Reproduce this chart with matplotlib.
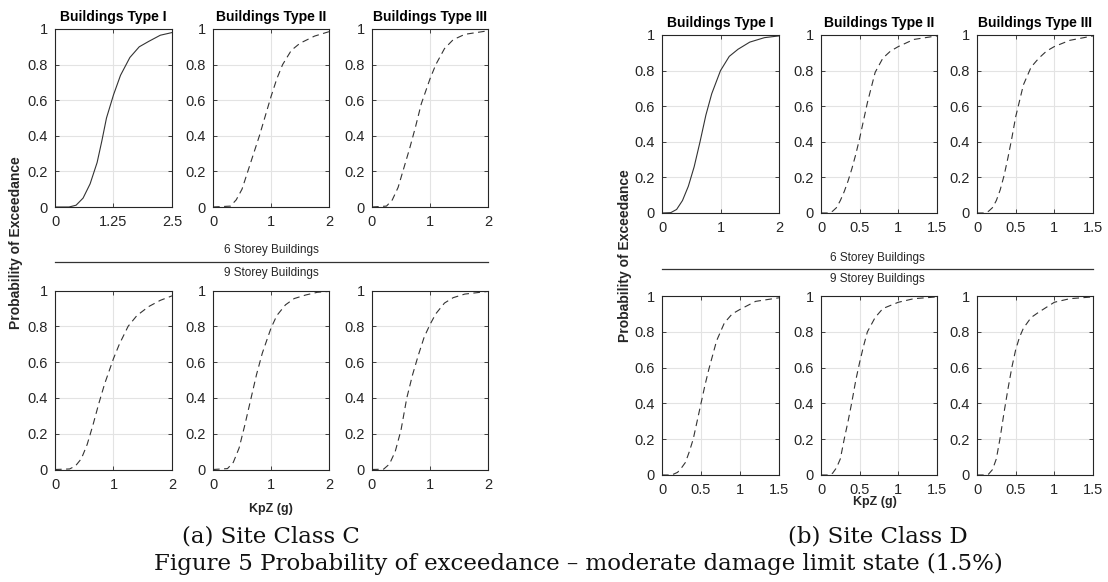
import matplotlib
matplotlib.use('Agg')
from matplotlib import pyplot as plt

plt.rcParams['font.family'] = ['Liberation Sans', 'DejaVu Sans']

W, H = 1108, 582

# ---- data ----
# Site Class C, 6 storey
c6_t1_x = [0, 0.3, 0.45, 0.6, 0.75, 0.9, 1.0, 1.1, 1.25, 1.4, 1.6, 1.8, 2.0, 2.25, 2.5]
c6_t1_y = [0, 0.0, 0.01, 0.05, 0.13, 0.25, 0.37, 0.5, 0.63, 0.74, 0.84, 0.9, 0.93, 0.965, 0.98]
c6_t2_x = [0, 0.3, 0.4, 0.5, 0.6, 0.7, 0.8, 0.9, 1.0, 1.1, 1.2, 1.35, 1.5, 1.75, 2.0]
c6_t2_y = [0, 0.005, 0.04, 0.1, 0.2, 0.3, 0.4, 0.51, 0.62, 0.72, 0.8, 0.88, 0.92, 0.96, 0.985]
c6_t3_x = [0, 0.25, 0.35, 0.45, 0.55, 0.65, 0.75, 0.85, 1.0, 1.1, 1.25, 1.4, 1.6, 2.0]
c6_t3_y = [0, 0.005, 0.04, 0.11, 0.22, 0.33, 0.45, 0.58, 0.72, 0.8, 0.89, 0.94, 0.97, 0.99]
# Site Class C, 9 storey
c9_t1_x = [0, 0.25, 0.35, 0.45, 0.55, 0.65, 0.75, 0.85, 1.0, 1.1, 1.25, 1.4, 1.6, 1.8, 2.0]
c9_t1_y = [0, 0.003, 0.02, 0.06, 0.14, 0.25, 0.37, 0.48, 0.62, 0.7, 0.8, 0.86, 0.91, 0.945, 0.97]
c9_t2_x = [0, 0.25, 0.35, 0.45, 0.55, 0.65, 0.75, 0.85, 1.0, 1.1, 1.25, 1.4, 1.6, 1.8, 2.0]
c9_t2_y = [0, 0.005, 0.04, 0.12, 0.25, 0.39, 0.53, 0.65, 0.79, 0.86, 0.92, 0.955, 0.975, 0.99, 0.995]
c9_t3_x = [0, 0.2, 0.3, 0.4, 0.5, 0.6, 0.7, 0.8, 0.9, 1.0, 1.1, 1.25, 1.4, 1.6, 2.0]
c9_t3_y = [0, 0.002, 0.03, 0.1, 0.22, 0.4, 0.53, 0.64, 0.74, 0.81, 0.87, 0.93, 0.96, 0.98, 0.995]

# Site Class D, 6 storey
d6_t1_x = [0, 0.15, 0.25, 0.35, 0.45, 0.55, 0.65, 0.75, 0.85, 1.0, 1.15, 1.3, 1.5, 1.75, 2.0]
d6_t1_y = [0, 0.002, 0.02, 0.07, 0.15, 0.26, 0.4, 0.55, 0.67, 0.8, 0.88, 0.92, 0.96, 0.985, 0.995]
d6_t2_x = [0, 0.1, 0.15, 0.2, 0.25, 0.3, 0.35, 0.4, 0.45, 0.5, 0.6, 0.7, 0.8, 0.9, 1.0, 1.2, 1.5]
d6_t2_y = [0, 0, 0.01, 0.03, 0.07, 0.12, 0.18, 0.25, 0.33, 0.42, 0.62, 0.79, 0.87, 0.91, 0.935, 0.975, 0.995]
d6_t3_x = [0, 0.1, 0.15, 0.2, 0.25, 0.3, 0.35, 0.4, 0.45, 0.5, 0.55, 0.6, 0.7, 0.8, 0.9, 1.0, 1.2, 1.5]
d6_t3_y = [0, 0, 0.01, 0.03, 0.07, 0.13, 0.21, 0.31, 0.42, 0.54, 0.63, 0.72, 0.82, 0.87, 0.91, 0.935, 0.97, 0.995]
# Site Class D, 9 storey
d9_t1_x = [0, 0.1, 0.15, 0.2, 0.25, 0.3, 0.35, 0.4, 0.45, 0.5, 0.55, 0.6, 0.65, 0.7, 0.8, 0.9, 1.0, 1.2, 1.5]
d9_t1_y = [0, 0, 0.005, 0.015, 0.04, 0.07, 0.13, 0.2, 0.3, 0.4, 0.5, 0.59, 0.67, 0.75, 0.85, 0.9, 0.925, 0.97, 0.99]
d9_t2_x = [0, 0.1, 0.15, 0.2, 0.25, 0.3, 0.35, 0.4, 0.45, 0.5, 0.55, 0.6, 0.7, 0.8, 1.0, 1.2, 1.5]
d9_t2_y = [0, 0, 0.01, 0.04, 0.09, 0.2, 0.3, 0.41, 0.53, 0.63, 0.72, 0.8, 0.88, 0.93, 0.965, 0.985, 0.995]
d9_t3_x = [0, 0.1, 0.15, 0.2, 0.25, 0.3, 0.35, 0.4, 0.45, 0.5, 0.55, 0.6, 0.7, 0.8, 1.0, 1.2, 1.5]
d9_t3_y = [0, 0, 0.005, 0.03, 0.09, 0.21, 0.35, 0.48, 0.6, 0.7, 0.77, 0.82, 0.88, 0.91, 0.965, 0.985, 0.995]

titles = ['Buildings Type I', 'Buildings Type II', 'Buildings Type III']
y_ticks = [0, 0.2, 0.4, 0.6, 0.8, 1]
y_labels = ['0', '0.2', '0.4', '0.6', '0.8', '1']
c_xticks = [[0, 1.25, 2.5], [0, 1, 2], [0, 1, 2]]
c_xlabels = [['0', '1.25', '2.5'], ['0', '1', '2'], ['0', '1', '2']]
d_xticks = [[0, 1, 2], [0, 0.5, 1, 1.5], [0, 0.5, 1, 1.5]]
d_xlabels = [['0', '1', '2'], ['0', '0.5', '1', '1.5'], ['0', '0.5', '1', '1.5']]

fig = plt.figure(figsize=(W / 100, H / 100), dpi=100)


def px_axes(l, t, r, b):
    return fig.add_axes([l / W, 1 - b / H, (r - l) / W, (b - t) / H])


def ftext(x, y, s, **kw):
    fig.text(x / W, 1 - y / H, s, **kw)


def draw_panel(ax, x, y, style, xticks, xlabels, xmax, title=None):
    ax.plot(x, y, color='#333333', lw=0.8, ls=style, dashes=(6, 4) if style == '--' else ())
    ax.set_xlim(0, xmax)
    ax.set_ylim(0, 1)
    ax.set_xticks(xticks)
    ax.set_xticklabels(xlabels)
    ax.set_yticks(y_ticks)
    ax.set_yticklabels(y_labels)
    ax.grid(True, color='#e3e3e3', lw=0.8)
    ax.set_axisbelow(True)
    ax.tick_params(direction='in', length=3, width=0.6, top=True, right=True,
                   labelsize=10.5, labelcolor='#262626', color='#262626')
    ax.tick_params(axis='x', pad=6)
    ax.tick_params(axis='y', pad=5)
    for sp in ax.spines.values():
        sp.set_linewidth(0.8)
        sp.set_color('#262626')
    if title:
        ax.set_title(title, fontsize=10, fontweight='bold', pad=6)


# ---- Site Class C ----
c_cols = [(55, 172), (213, 329), (372, 488)]
c_top = [(c6_t1_x, c6_t1_y, '-'), (c6_t2_x, c6_t2_y, '--'), (c6_t3_x, c6_t3_y, '--')]
c_bot = [(c9_t1_x, c9_t1_y, '--'), (c9_t2_x, c9_t2_y, '--'), (c9_t3_x, c9_t3_y, '--')]
c_xmax = [2.5, 2, 2]
for i, (l, r) in enumerate(c_cols):
    ax = px_axes(l, 29, r, 207)
    draw_panel(ax, c_top[i][0], c_top[i][1], c_top[i][2], c_xticks[i], c_xlabels[i], c_xmax[i], titles[i])
    ax = px_axes(l, 290.5, r, 469.5)
    draw_panel(ax, c_bot[i][0], c_bot[i][1], c_bot[i][2], [0, 1, 2], ['0', '1', '2'], 2)

# ---- Site Class D ----
d_cols = [(662, 779), (821, 937), (977, 1093)]
d_top = [(d6_t1_x, d6_t1_y, '-'), (d6_t2_x, d6_t2_y, '--'), (d6_t3_x, d6_t3_y, '--')]
d_bot = [(d9_t1_x, d9_t1_y, '--'), (d9_t2_x, d9_t2_y, '--'), (d9_t3_x, d9_t3_y, '--')]
d_xmax = [2, 1.5, 1.5]
for i, (l, r) in enumerate(d_cols):
    ax = px_axes(l, 35, r, 213)
    draw_panel(ax, d_top[i][0], d_top[i][1], d_top[i][2], d_xticks[i], d_xlabels[i], d_xmax[i], titles[i])
    ax = px_axes(l, 296, r, 475)
    draw_panel(ax, d_bot[i][0], d_bot[i][1], d_bot[i][2], [0, 0.5, 1, 1.5], ['0', '0.5', '1', '1.5'], 1.5)

# separators between 6 and 9 storey rows
fig.add_artist(plt.Line2D([55 / W, 488 / W], [1 - 262 / H, 1 - 262 / H], color='#333333', lw=0.9))
fig.add_artist(plt.Line2D([662 / W, 1093 / W], [1 - 269 / H, 1 - 269 / H], color='#333333', lw=0.9))
for cx, y6, y9 in [(271, 250, 273), (877, 258, 279)]:
    ftext(cx, y6, '6 Storey Buildings', fontsize=8.5, ha='center', va='center', color='#262626')
    ftext(cx, y9, '9 Storey Buildings', fontsize=8.5, ha='center', va='center', color='#262626')

# axis labels
ftext(16, 243, 'Probability of Exceedance', fontsize=10, fontweight='bold', rotation=90,
      ha='center', va='center', color='#262626')
ftext(625, 256, 'Probability of Exceedance', fontsize=10, fontweight='bold', rotation=90,
      ha='center', va='center', color='#262626')
ftext(271, 509, 'KpZ (g)', fontsize=9, fontweight='bold', ha='center', va='center', color='#262626')
ftext(875, 502, 'KpZ (g)', fontsize=9, fontweight='bold', ha='center', va='center', color='#262626')

# captions
cap = dict(family=['DejaVu Serif'], fontsize=16.5, ha='center', va='center', color='#111111')
ftext(271, 537, '(a) Site Class C', **cap)
ftext(878, 537, '(b) Site Class D', **cap)
ftext(578, 564, 'Figure 5 Probability of exceedance \u2013 moderate damage limit state (1.5%)', **cap)

fig.savefig('out.png', dpi=100)
